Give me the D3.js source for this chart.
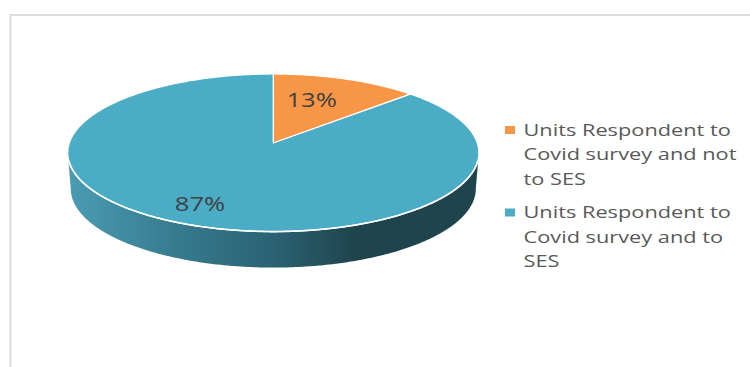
<!DOCTYPE html>
<html>
<head>
<meta charset="utf-8">
<script src="https://cdn.jsdelivr.net/npm/d3@7/dist/d3.min.js"></script>
<style>
  html, body { margin: 0; padding: 0; background: #fff; }
  svg { display: block; }
  text { font-family: "Open Sans", sans-serif; }
</style>
</head>
<body>
<svg id="chart" width="750" height="367"></svg>
<script>
// Survey response shares
const categories = ["Units Respondent to Covid survey and not to SES",
                    "Units Respondent to Covid survey and to SES"];
const shares = [13, 87];
const sliceColors = ["#F79646", "#4BACC6"];
const legendLines = [
  ["Units Respondent to", "Covid survey and not", "to SES"],
  ["Units Respondent to", "Covid survey and to", "SES"]
];

const svg = d3.select("#chart");

// Chart frame: top and left rules only
svg.append("path")
  .attr("d", "M750,15H10.5V367")
  .attr("fill", "none").attr("stroke", "#dcdcdc").attr("stroke-width", 2);

// Tilted disc: a perspective projection of the unit circle around the apex
const apex = { x: 273.3, y: 143 };
const tilt = 0.124, radiusX = 204, radiusY = 77.6, depth = 36, baseShrink = 0.985;

function project(angle, r = 1, lowered = false) {
  const u = r * Math.sin(angle), v = r * Math.cos(angle), w = 1 + tilt * v;
  const s = lowered ? baseShrink : 1;
  return [apex.x + s * radiusX * u / w,
          apex.y - radiusY * v / w + (lowered ? depth : 0)];
}

const line = d3.line();
const pie = d3.pie().sort(null).value(d => d);
const arcs = pie(shares);

// Points along an arc of the rim, every half degree
function rim(a0, a1, lowered = false) {
  const n = Math.max(2, Math.ceil(Math.abs(a1 - a0) / (Math.PI / 360)));
  return d3.range(n + 1).map(i => project(a0 + (a1 - a0) * i / n, 1, lowered));
}

// Side wall, shaded from the lit left edge to the dark right
const defs = svg.append("defs");
const wallGradient = defs.append("linearGradient")
  .attr("id", "wall").attr("gradientUnits", "userSpaceOnUse")
  .attr("x1", 69).attr("x2", 479).attr("y1", 0).attr("y2", 0);
[[0, "#4a9cb3"], [0.25, "#387c90"], [0.5, "#2a6272"], [0.7, "#1f444e"], [1, "#1f444e"]]
  .forEach(([o, c]) => wallGradient.append("stop").attr("offset", o).attr("stop-color", c));

const sideStart = Math.acos(-tilt), sideEnd = 2 * Math.PI - sideStart;
svg.append("path")
  .attr("d", line(rim(sideStart, sideEnd).concat(rim(sideEnd, sideStart, true))) + "Z")
  .attr("fill", "url(#wall)");

// Top face slices
svg.append("g").selectAll("path").data(arcs).join("path")
  .attr("d", d => line([[apex.x, apex.y], ...rim(d.startAngle, d.endAngle)]) + "Z")
  .attr("fill", (d, i) => sliceColors[i])
  .attr("stroke", "#fff").attr("stroke-width", 1.3).attr("stroke-linejoin", "round");

// Brighter rim along the front edge, where the face meets the wall
svg.append("path")
  .attr("d", line(rim(sideStart + 0.1, sideEnd - 0.1)))
  .attr("fill", "none").attr("stroke", "#fff").attr("stroke-width", 1.6);

// Percentage labels placed along each slice's mid-angle
const labelRadius = [0.5, 0.82];
const labelBaselineShift = [-2.3, 3.6];
svg.append("g").selectAll("text").data(arcs).join("text")
  .attr("transform", (d, i) => {
    const [x, y] = project((d.startAngle + d.endAngle) / 2, labelRadius[i]);
    return `translate(${x},${y + labelBaselineShift[i]}) scale(1.25,1)`;
  })
  .attr("text-anchor", "middle")
  .attr("font-size", 20.5).attr("fill", "#404040")
  .text(d => `${d.data}%`);

// Legend
const legendY = d3.scalePoint().domain(categories).range([135.5, 218]);
const lineGap = 24.6;
const legend = svg.append("g").selectAll("g").data(categories).join("g")
  .attr("transform", d => `translate(0,${legendY(d)})`);
legend.append("rect")
  .attr("x", 505).attr("y", -9.5).attr("width", 10).attr("height", 8)
  .attr("fill", (d, i) => sliceColors[i]);
legend.each(function (d, i) {
  d3.select(this).selectAll("text").data(legendLines[i]).join("text")
    .attr("transform", (t, j) => `translate(523.5,${j * lineGap}) scale(1.265,1)`)
    .attr("font-size", 17.2).attr("fill", "#595959")
    .text(t => t);
});
</script>
</body>
</html>
